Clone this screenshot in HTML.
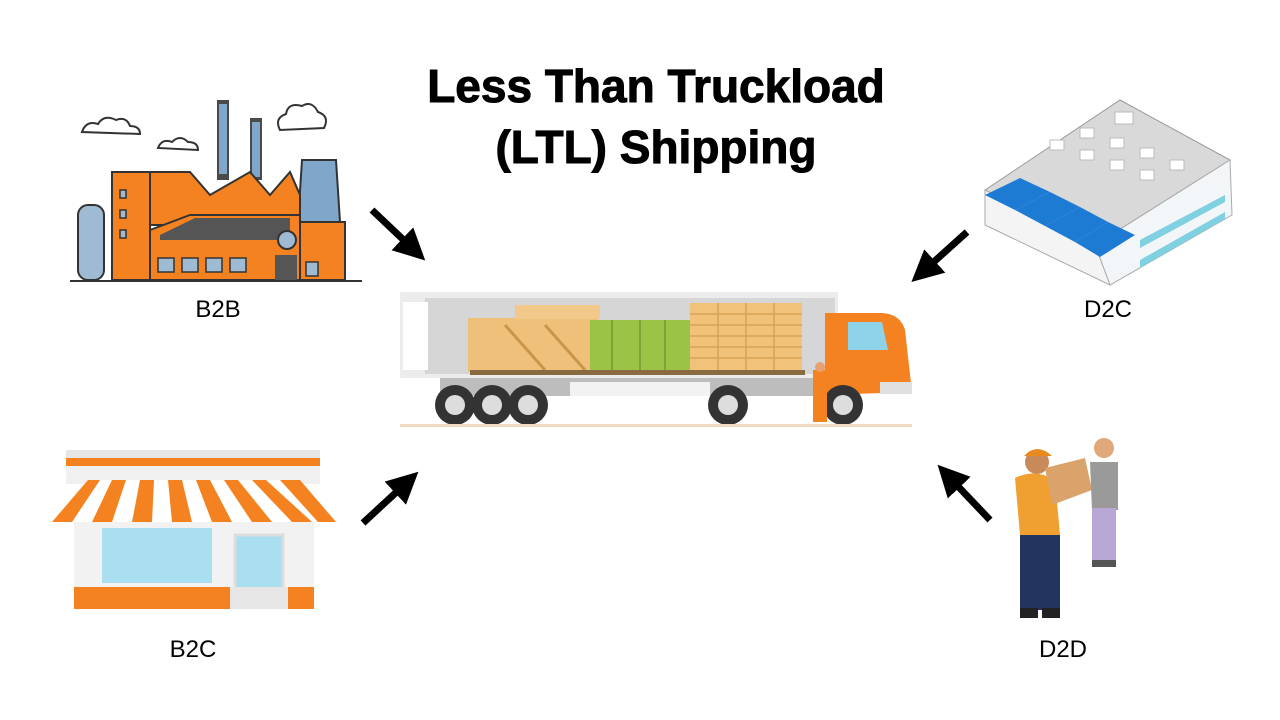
<!DOCTYPE html>
<html><head><meta charset="utf-8"><style>
html,body{margin:0;padding:0;background:#fff;}
svg{display:block}
</style></head><body>
<svg width="1280" height="720" viewBox="0 0 1280 720" xmlns="http://www.w3.org/2000/svg" font-family="Liberation Sans, sans-serif">
<defs>
<marker id="ah" markerWidth="4.5" markerHeight="4.5" refX="1.5" refY="2.25" orient="auto" markerUnits="strokeWidth">
<path d="M0,0 L4.5,2.25 L0,4.5 Z" fill="#000"/></marker>
</defs>
<text x="656" y="102" font-size="46" font-weight="bold" text-anchor="middle" stroke="#000" stroke-width="1">Less Than Truckload</text>
<text x="656" y="163" font-size="46" font-weight="bold" text-anchor="middle" stroke="#000" stroke-width="1">(LTL) Shipping</text>

<!-- arrows -->
<g stroke="#000" stroke-width="7" marker-end="url(#ah)">
<line x1="372" y1="210" x2="410" y2="246"/>
<line x1="967" y1="232" x2="927" y2="268"/>
<line x1="363" y1="523" x2="403" y2="486"/>
<line x1="990" y1="520" x2="952" y2="480"/>
</g>

<!-- factory -->
<g>
<path d="M82 132 q4-12 16-8 q6-10 18-4 q10-4 14 6 q10 0 10 8 z" fill="none" stroke="#333" stroke-width="2"/>
<path d="M158 148 q4-10 14-6 q8-8 16 0 q10 0 10 8 z" fill="none" stroke="#333" stroke-width="2"/>
<path d="M280 130 q-6-12 6-16 q2-12 16-8 q10-6 16 6 q12 4 6 16 z" fill="none" stroke="#333" stroke-width="2"/>
<rect x="217" y="100" width="12" height="80" fill="#4a4a4a"/>
<rect x="219" y="104" width="8" height="70" fill="#7fa7c9"/>
<rect x="250" y="118" width="12" height="62" fill="#4a4a4a"/>
<rect x="252" y="122" width="8" height="55" fill="#7fa7c9"/>
<path d="M302 160 L336 160 L340 222 L298 222 Z" fill="#7fa7c9" stroke="#333" stroke-width="2"/>
<rect x="78" y="205" width="26" height="75" rx="10" fill="#9fbad3" stroke="#333" stroke-width="2"/>
<path d="M112 172 L150 172 L150 280 L112 280 Z" fill="#f58220" stroke="#333" stroke-width="2"/>
<path d="M150 172 L190 172 L210 195 L250 172 L270 195 L290 172 L300 195 L300 225 L150 225 Z" fill="#f58220" stroke="#333" stroke-width="2"/>
<rect x="300" y="222" width="45" height="58" fill="#f58220" stroke="#333" stroke-width="2"/>
<path d="M150 230 L190 215 L300 215 L300 280 L150 280 Z" fill="#f58220" stroke="#333" stroke-width="2"/>
<path d="M160 235 L195 218 L290 218 L290 240 L160 240 Z" fill="#555"/>
<circle cx="287" cy="240" r="9" fill="#9fbad3" stroke="#333" stroke-width="2"/>
<g fill="#9fbad3" stroke="#333" stroke-width="1.5">
<rect x="158" y="258" width="16" height="14"/><rect x="182" y="258" width="16" height="14"/><rect x="206" y="258" width="16" height="14"/><rect x="230" y="258" width="16" height="14"/>
<rect x="120" y="190" width="6" height="8"/><rect x="120" y="210" width="6" height="8"/><rect x="120" y="230" width="6" height="8"/>
<rect x="306" y="262" width="12" height="14"/>
</g>
<rect x="275" y="255" width="22" height="25" fill="#555"/>
<line x1="70" y1="281" x2="362" y2="281" stroke="#333" stroke-width="2"/>
</g>
<text x="218" y="317" font-size="24" text-anchor="middle">B2B</text>

<!-- warehouse -->
<g>
<path d="M985 190 L1120 100 L1230 160 L1095 245 Z" fill="#d9d9d9" stroke="#999"/>
<path d="M1095 245 L1230 160 L1232 215 L1110 285 Z" fill="#f3f6f8" stroke="#aaa"/>
<path d="M985 190 L1095 245 L1110 285 L985 225 Z" fill="#f4f4f4" stroke="#aaa"/>
<g fill="#1e7bd3">
<path d="M985 195 L1020 178 L1050 192 L1015 210 Z"/>
<path d="M1015 210 L1050 192 L1080 207 L1045 226 Z"/>
<path d="M1045 226 L1080 207 L1108 222 L1075 242 Z"/>
<path d="M1075 242 L1108 222 L1135 235 L1100 257 Z"/>
</g>
<g fill="#fff" stroke="#bbb"><rect x="1050" y="140" width="14" height="10"/><rect x="1080" y="150" width="14" height="10"/><rect x="1110" y="160" width="14" height="10"/><rect x="1080" y="128" width="14" height="10"/><rect x="1110" y="138" width="14" height="10"/><rect x="1140" y="148" width="14" height="10"/><rect x="1140" y="170" width="14" height="10"/><rect x="1170" y="160" width="14" height="10"/><rect x="1115" y="112" width="18" height="12"/></g>
<g fill="#7fd0e0"><path d="M1140 240 L1225 195 L1225 202 L1140 248 Z"/><path d="M1140 260 L1225 212 L1225 219 L1140 268 Z"/></g>
</g>
<text x="1108" y="317" font-size="24" text-anchor="middle">D2C</text>

<!-- truck -->
<g>
<rect x="400" y="292" width="438" height="86" fill="#ececec"/>
<rect x="425" y="298" width="410" height="76" fill="#d6d6d6"/>
<rect x="403" y="302" width="25" height="68" fill="#fff"/>
<rect x="468" y="318" width="130" height="54" fill="#efc079"/>
<rect x="515" y="305" width="85" height="14" fill="#f2c98a"/>
<path d="M505 325 L545 370 M545 325 L585 370" stroke="#c9954b" stroke-width="3"/>
<rect x="590" y="320" width="100" height="50" fill="#9bc447"/>
<g stroke="#7ea534" stroke-width="2"><line x1="612" y1="320" x2="612" y2="370"/><line x1="640" y1="320" x2="640" y2="370"/><line x1="665" y1="320" x2="665" y2="370"/></g>
<rect x="690" y="303" width="112" height="67" fill="#f0c27a"/>
<g stroke="#d9a356" stroke-width="1.5"><line x1="690" y1="314" x2="802" y2="314"/><line x1="690" y1="325" x2="802" y2="325"/><line x1="690" y1="336" x2="802" y2="336"/><line x1="690" y1="347" x2="802" y2="347"/><line x1="690" y1="358" x2="802" y2="358"/><line x1="718" y1="303" x2="718" y2="370"/><line x1="746" y1="303" x2="746" y2="370"/><line x1="774" y1="303" x2="774" y2="370"/></g>
<rect x="470" y="370" width="335" height="5" fill="#8a6a40"/>
<rect x="440" y="378" width="400" height="18" fill="#bdbdbd"/>
<rect x="570" y="382" width="140" height="14" fill="#f2f2f2"/>
<path d="M825 313 L880 313 Q900 313 905 330 L912 392 L825 395 Z" fill="#f58220"/>
<path d="M848 322 L882 322 L888 350 L848 350 Z" fill="#8fd3ea"/>
<rect x="880" y="382" width="32" height="12" fill="#e0e0e0"/>
<g fill="#333"><circle cx="455" cy="405" r="20"/><circle cx="492" cy="405" r="20"/><circle cx="528" cy="405" r="20"/><circle cx="728" cy="405" r="20"/><circle cx="843" cy="405" r="20"/></g>
<g fill="#ddd"><circle cx="455" cy="405" r="10"/><circle cx="492" cy="405" r="10"/><circle cx="528" cy="405" r="10"/><circle cx="728" cy="405" r="10"/><circle cx="843" cy="405" r="10"/></g>
<rect x="813" y="370" width="14" height="52" fill="#f58220"/>
<circle cx="820" cy="367" r="5" fill="#e8a070"/>
<rect x="400" y="424" width="512" height="3" fill="#f2d9c4"/>
</g>

<!-- store -->
<g>
<rect x="66" y="450" width="254" height="8" fill="#e6e6e6"/>
<rect x="66" y="458" width="254" height="8" fill="#f58220"/>
<rect x="66" y="466" width="254" height="18" fill="#f0f0f0"/>
<path d="M52 522 L88 480 L300 480 L336 522 Z" fill="#fff"/>
<g fill="#f58220">
<path d="M52 522 L88 480 L100 480 L72 522 Z"/><path d="M92 522 L112 480 L126 480 L112 522 Z"/><path d="M132 522 L140 480 L154 480 L152 522 Z"/><path d="M172 522 L168 480 L182 480 L192 522 Z"/><path d="M212 522 L196 480 L210 480 L232 522 Z"/><path d="M252 522 L224 480 L238 480 L272 522 Z"/><path d="M292 522 L252 480 L266 480 L312 522 Z"/><path d="M318 522 L280 480 L300 480 L336 522 Z"/>
</g>
<rect x="74" y="522" width="240" height="65" fill="#f2f2f2"/>
<rect x="102" y="528" width="110" height="55" fill="#a9dff0"/>
<rect x="235" y="535" width="48" height="70" fill="#a9dff0" stroke="#ddd" stroke-width="3"/>
<rect x="74" y="587" width="240" height="22" fill="#f58220"/>
<rect x="230" y="587" width="58" height="22" fill="#e6e6e6"/>
</g>
<text x="193" y="657" font-size="24" text-anchor="middle">B2C</text>

<!-- people -->
<g>
<circle cx="1037" cy="462" r="12" fill="#c98a5a"/>
<path d="M1024 456 Q1037 442 1052 456 Z" fill="#e98a1e"/>
<path d="M1015 478 Q1035 468 1055 480 L1060 535 L1020 535 Z" fill="#f0a030"/>
<rect x="1020" y="535" width="40" height="75" fill="#23345e"/>
<rect x="1020" y="608" width="18" height="10" fill="#222"/><rect x="1042" y="608" width="18" height="10" fill="#222"/>
<path d="M1045 468 L1085 458 L1092 490 L1052 505 Z" fill="#d9a36b"/>
<circle cx="1104" cy="448" r="10" fill="#e0a878"/>
<path d="M1090 462 L1118 462 L1118 510 L1092 510 Z" fill="#9a9a9a"/>
<rect x="1092" y="508" width="24" height="55" fill="#b9a7d6"/>
<rect x="1092" y="560" width="24" height="7" fill="#555"/>
</g>
<text x="1063" y="657" font-size="24" text-anchor="middle">D2D</text>
</svg>
</body></html>
